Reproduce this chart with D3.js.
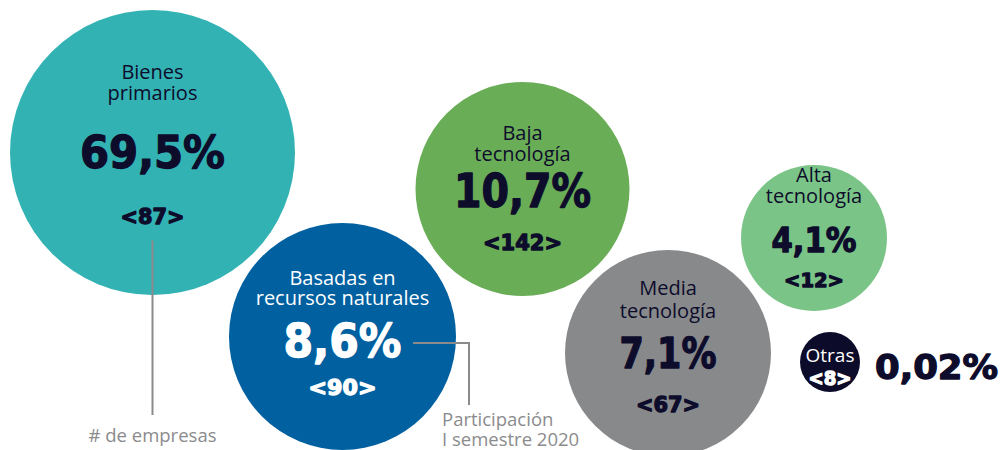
<!DOCTYPE html>
<html>
<head>
<meta charset="utf-8">
<script src="https://cdn.jsdelivr.net/npm/d3@7/dist/d3.min.js"></script>
<style>
  html, body { margin: 0; padding: 0; background: #ffffff; }
  svg { display: block; }
</style>
</head>
<body>
<svg id="chart" width="1008" height="450"></svg>
<script>
// ---- data ----
const categories = ["Bienes primarios", "Basadas en recursos naturales", "Baja tecnología", "Media tecnología", "Alta tecnología", "Otras"];
const labelLines = [["Bienes", "primarios"], ["Basadas en", "recursos naturales"], ["Baja", "tecnología"], ["Media", "tecnología"], ["Alta", "tecnología"], ["Otras"]];
const shares = [69.5, 8.6, 10.7, 7.1, 4.1, 0.02];          // participación I semestre 2020 (%)
const firms = [87, 90, 142, 67, 12, 8];                      // # de empresas
const annotations = ["# de empresas", ["Participación", "I semestre 2020"]];

// ---- layout / style (not data) ----
const layout = [
  { cx: 152.5, cy: 152.5, r: 142.5, fill: "#33b2b4", ink: "#0d0c2b", lab: [-73.5, -52.5], labSize: 20, pct: 15.5, pctSize: 45, pctW: 145, cnt: 71.5, cntSize: 22, cntW: 64 },
  { cx: 342.5, cy: 336.5, r: 113.5, fill: "#0060a0", ink: "#ffffff", lab: [-51.5, -31.5], labSize: 20, pct: 20.5, pctSize: 46, pctW: 118, cnt: 58.5, cntSize: 21, cntW: 68 },
  { cx: 522.5, cy: 189,   r: 107,   fill: "#6aad57", ink: "#0d0c2b", lab: [-49, -28],     labSize: 20, pct: 18,   pctSize: 46, pctW: 137, cnt: 61,   cntSize: 22, cntW: 79 },
  { cx: 668,   cy: 353,   r: 103,   fill: "#88898b", ink: "#0d0c2b", lab: [-58, -35],     labSize: 20, pct: 15,   pctSize: 43, pctW: 97,  cnt: 59,   cntSize: 21, cntW: 64 },
  { cx: 814,   cy: 238,   r: 73,    fill: "#7bc487", ink: "#0d0c2b", lab: [-56, -35],     labSize: 20, pct: 14,   pctSize: 34, pctW: 85,  cnt: 49,   cntSize: 20, cntW: 60 },
  { cx: 830,   cy: 362,   r: 30,    fill: "#0c0b2a", ink: "#ffffff", lab: [0],           labSize: 19, pct: null, pctSize: 34, pctW: 123, cnt: 23,   cntSize: 19, cntW: 43 }
];

const labelFont = "'Open Sans', 'Noto Sans', sans-serif";
const numFont = "'DejaVu Sans', sans-serif";
const grey = "#8b8b8d";
const dark = "#0d0c2b";

const locale = d3.formatLocale({ decimal: ",", thousands: ".", grouping: [3], currency: ["", ""] });
const fmtPct = v => (v < 1 ? locale.format(".2f")(v) : locale.format(".1f")(v)) + "%";

const svg = d3.select("#chart");

const data = categories.map((c, i) => ({ name: c, lines: labelLines[i], share: shares[i], firms: firms[i], L: layout[i] }));

function heavy(sel, color, size, w) {
  return sel
    .attr("font-family", numFont)
    .attr("font-weight", "bold")
    .attr("font-size", size)
    .attr("fill", color)
    .attr("stroke", color)
    .attr("stroke-width", 1.3)
    .attr("stroke-linejoin", "round")
    .attr("textLength", w)
    .attr("lengthAdjust", "spacingAndGlyphs");
}

const g = svg.selectAll("g.bubble").data(data).join("g")
  .attr("class", "bubble")
  .attr("transform", d => `translate(${d.L.cx},${d.L.cy})`);

g.append("circle")
  .attr("r", d => d.L.r)
  .attr("fill", d => d.L.fill);

g.each(function(d) {
  const sel = d3.select(this);
  d.lines.forEach((t, j) => {
    sel.append("text")
      .attr("x", 0).attr("y", d.L.lab[j])
      .attr("text-anchor", "middle")
      .attr("font-family", labelFont)
      .attr("font-size", d.L.labSize)
      .attr("fill", d.L.ink)
      .text(t);
  });
  if (d.L.pct !== null) {
    heavy(sel.append("text")
      .attr("x", 0).attr("y", d.L.pct)
      .attr("text-anchor", "middle"), d.L.ink, d.L.pctSize, d.L.pctW)
      .text(fmtPct(d.share));
  }
  heavy(sel.append("text")
    .attr("x", 0).attr("y", d.L.cnt)
    .attr("text-anchor", "middle"), d.L.ink, d.L.cntSize, d.L.cntW)
    .text(`<${d.firms}>`);
});

// "Otras" share printed beside its bubble
const otras = data[5];
heavy(svg.append("text")
  .attr("x", otras.L.cx + otras.L.r + 15)
  .attr("y", otras.L.cy + 17)
  .attr("text-anchor", "start"), dark, otras.L.pctSize, otras.L.pctW)
  .text(fmtPct(otras.share));

// annotation: # de empresas
const b0 = data[0].L;
svg.append("line")
  .attr("x1", b0.cx).attr("x2", b0.cx)
  .attr("y1", b0.cy + 88).attr("y2", 415)
  .attr("stroke", grey).attr("stroke-width", 2);
svg.append("text")
  .attr("x", b0.cx).attr("y", 442)
  .attr("text-anchor", "middle")
  .attr("font-family", labelFont)
  .attr("font-size", 18.5)
  .attr("fill", grey)
  .text(annotations[0]);

// annotation: Participación I semestre 2020
const b1 = data[1].L;
const ay = b1.cy + 6.5;
svg.append("path")
  .attr("d", d3.line()([[413, ay], [469, ay], [469, 405]]))
  .attr("fill", "none")
  .attr("stroke", grey).attr("stroke-width", 2);
annotations[1].forEach((t, j) => {
  svg.append("text")
    .attr("x", 442).attr("y", 426 + j * 20)
    .attr("text-anchor", "start")
    .attr("font-family", labelFont)
    .attr("font-size", 18.5)
    .attr("fill", grey)
    .text(t);
});
</script>
</body>
</html>
